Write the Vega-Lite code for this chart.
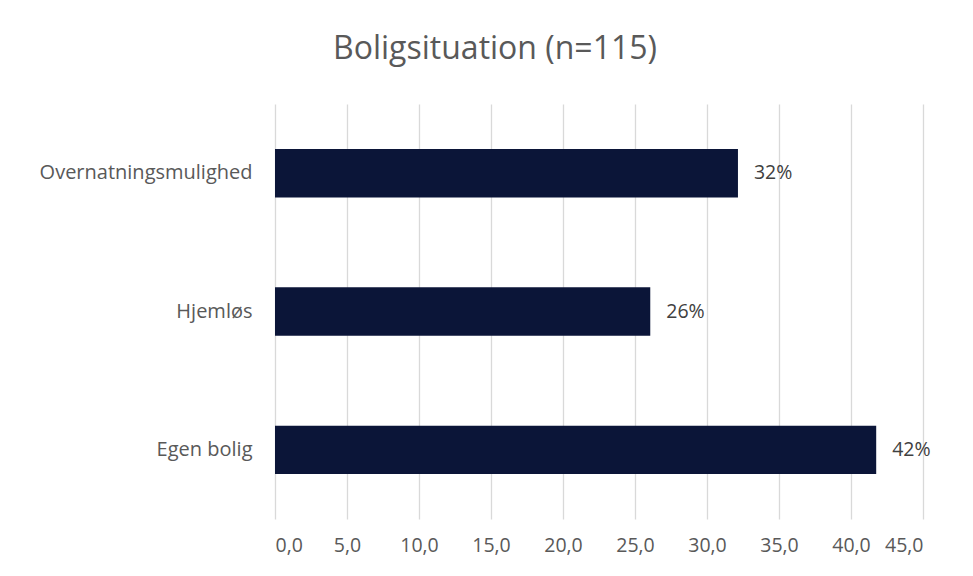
{
  "$schema": "https://vega.github.io/schema/vega-lite/v6.json",
  "autosize": {"type": "none"},
  "width": 648,
  "height": 415,
  "padding": {"left": 275, "top": 104, "right": 50, "bottom": 57},
  "background": "#ffffff",
  "title": {
    "text": "Boligsituation (n=115)",
    "fontSize": 32,
    "font": "Open Sans",
    "fontWeight": "normal",
    "color": "#595959",
    "anchor": "middle",
    "dx": -104,
    "offset": 38
  },
  "data": {
    "values": [
      {"kategori": "Overnatningsmulighed", "procent": 32.15, "label": "32%"},
      {"kategori": "Hjemløs", "procent": 26.06, "label": "26%"},
      {"kategori": "Egen bolig", "procent": 41.75, "label": "42%"}
    ]
  },
  "encoding": {
    "y": {
      "field": "kategori",
      "type": "nominal",
      "sort": ["Overnatningsmulighed", "Hjemløs", "Egen bolig"],
      "scale": {"paddingInner": 0.65, "paddingOuter": 0.325},
      "axis": {
        "title": null,
        "domain": false,
        "ticks": false,
        "labelPadding": 23,
        "labelFont": "Open Sans",
        "labelFontSize": 20,
        "labelColor": "#595959",
        "labelLimit": 300
      }
    },
    "x": {
      "field": "procent",
      "type": "quantitative",
      "scale": {"domain": [0, 45]},
      "axis": {
        "title": null,
        "values": [0, 5, 10, 15, 20, 25, 30, 35, 40, 45],
        "labelExpr": "replace(format(datum.value, '.1f'), '.', ',')",
        "domain": false,
        "ticks": false,
        "grid": true,
        "gridColor": "#d9d9d9",
        "gridWidth": 1.3,
        "labelPadding": 17,
        "labelFont": "Open Sans",
        "labelFontSize": 19.5,
        "labelColor": "#595959"
      }
    }
  },
  "layer": [
    {"mark": {"type": "bar", "color": "#0b1538"}},
    {
      "mark": {"type": "text", "align": "left", "dx": 16, "font": "Open Sans", "fontSize": 19.5, "color": "#404040"},
      "encoding": {"text": {"field": "label"}}
    }
  ],
  "config": {"view": {"stroke": null}}
}
